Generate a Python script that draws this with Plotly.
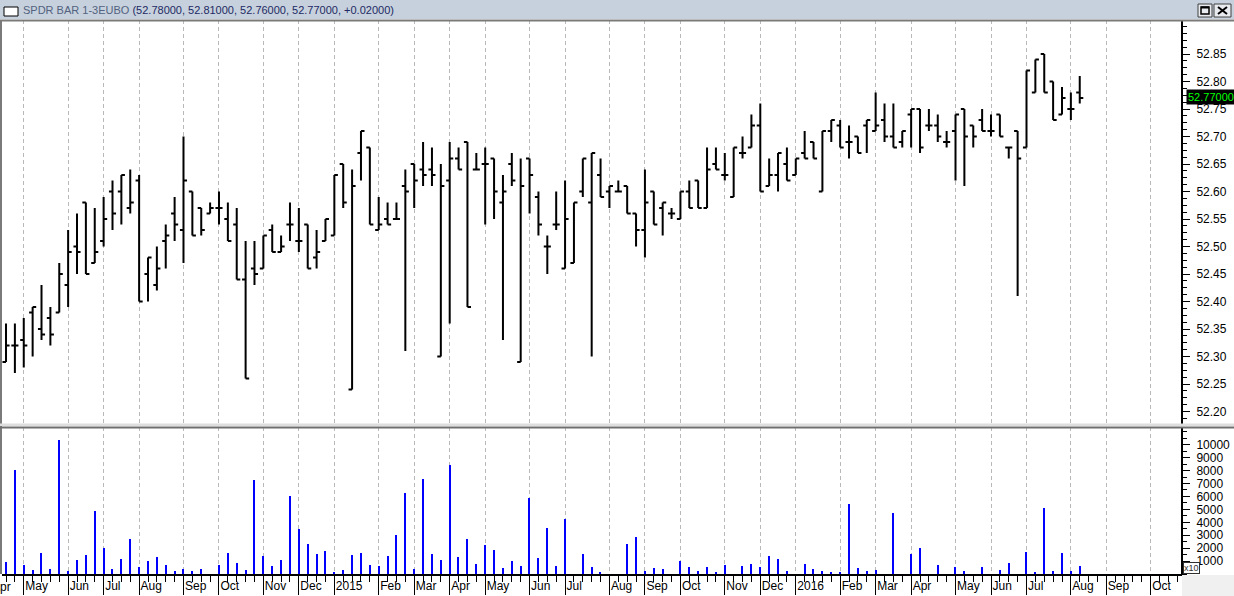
import plotly.graph_objects as go
import pandas as pd

# ---------------- data ----------------
first_week = "2014-04-18"
n_weeks = 122
weeks = pd.date_range(first_week, periods=n_weeks, freq="W-FRI")

opens = [52.29, 52.32, 52.33, 52.38, 52.35, 52.37, 52.38, 52.43, 52.50, 52.58,
         52.47, 52.51, 52.60, 52.60, 52.57, 52.62, 52.45, 52.43, 52.51, 52.56,
         52.53, 52.60, 52.57, 52.56, 52.57, 52.55, 52.54, 52.44, 52.46, 52.46,
         52.53, 52.49, 52.54, 52.51, 52.54, 52.48, 52.51, 52.52, 52.65, 52.24,
         52.67, 52.68, 52.53, 52.55, 52.55, 52.61, 52.65, 52.64, 52.64, 52.30,
         52.62, 52.66, 52.69, 52.64, 52.65, 52.66, 52.58, 52.65, 52.29, 52.66,
         52.59, 52.50, 52.54, 52.46, 52.47, 52.60, 52.58, 52.63, 52.60, 52.60,
         52.61, 52.56, 52.53, 52.60, 52.57, 52.56, 52.55, 52.60, 52.62, 52.57,
         52.65, 52.63, 52.59, 52.67, 52.68, 52.72, 52.61, 52.63, 52.65, 52.63,
         52.67, 52.69, 52.60, 52.71, 52.72, 52.69, 52.70, 52.72, 52.71, 52.73,
         52.70, 52.69, 52.74, 52.75, 52.72, 52.72, 52.69, 52.71, 52.75, 52.72,
         52.73, 52.71, 52.74, 52.68, 52.71, 52.68, 52.78, 52.85, 52.80, 52.74,
         52.75, 52.78]
highs = [52.36, 52.36, 52.37, 52.39, 52.43, 52.39, 52.47, 52.53, 52.56, 52.58,
         52.57, 52.59, 52.62, 52.63, 52.64, 52.63, 52.48, 52.50, 52.54, 52.59,
         52.70, 52.60, 52.57, 52.58, 52.60, 52.58, 52.57, 52.51, 52.51, 52.52,
         52.54, 52.52, 52.58, 52.57, 52.54, 52.53, 52.55, 52.63, 52.65, 52.64,
         52.71, 52.68, 52.59, 52.58, 52.58, 52.64, 52.65, 52.69, 52.68, 52.65,
         52.69, 52.68, 52.69, 52.67, 52.68, 52.66, 52.63, 52.67, 52.66, 52.66,
         52.60, 52.52, 52.60, 52.62, 52.58, 52.66, 52.67, 52.66, 52.61, 52.62,
         52.61, 52.56, 52.64, 52.60, 52.58, 52.57, 52.60, 52.62, 52.62, 52.68,
         52.68, 52.67, 52.68, 52.70, 52.74, 52.76, 52.66, 52.67, 52.68, 52.66,
         52.71, 52.69, 52.71, 52.73, 52.73, 52.72, 52.70, 52.73, 52.78, 52.76,
         52.76, 52.71, 52.75, 52.75, 52.75, 52.74, 52.71, 52.74, 52.75, 52.72,
         52.75, 52.74, 52.74, 52.68, 52.71, 52.82, 52.84, 52.85, 52.80, 52.79,
         52.78, 52.81]
lows = [52.29, 52.27, 52.28, 52.30, 52.33, 52.32, 52.38, 52.39, 52.45, 52.45,
        52.47, 52.50, 52.53, 52.54, 52.56, 52.40, 52.40, 52.42, 52.46, 52.51,
        52.47, 52.52, 52.52, 52.56, 52.54, 52.51, 52.44, 52.26, 52.43, 52.46,
        52.49, 52.49, 52.51, 52.49, 52.46, 52.46, 52.51, 52.52, 52.57, 52.24,
        52.62, 52.54, 52.53, 52.54, 52.55, 52.31, 52.57, 52.61, 52.61, 52.30,
        52.36, 52.64, 52.39, 52.64, 52.54, 52.55, 52.33, 52.61, 52.29, 52.56,
        52.52, 52.45, 52.53, 52.46, 52.47, 52.59, 52.30, 52.59, 52.57, 52.60,
        52.56, 52.50, 52.48, 52.54, 52.52, 52.55, 52.55, 52.57, 52.57, 52.57,
        52.64, 52.62, 52.59, 52.66, 52.68, 52.60, 52.61, 52.60, 52.62, 52.63,
        52.66, 52.66, 52.60, 52.69, 52.68, 52.66, 52.67, 52.67, 52.71, 52.69,
        52.68, 52.68, 52.68, 52.67, 52.71, 52.69, 52.68, 52.62, 52.61, 52.68,
        52.71, 52.70, 52.70, 52.66, 52.41, 52.68, 52.78, 52.78, 52.73, 52.74,
        52.73, 52.76]
closes = [52.32, 52.32, 52.32, 52.39, 52.34, 52.34, 52.45, 52.49, 52.49, 52.45,
          52.49, 52.55, 52.56, 52.63, 52.58, 52.40, 52.48, 52.46, 52.52, 52.54,
          52.62, 52.52, 52.53, 52.57, 52.57, 52.51, 52.44, 52.26, 52.45, 52.52,
          52.49, 52.50, 52.54, 52.51, 52.46, 52.49, 52.55, 52.63, 52.58, 52.61,
          52.71, 52.54, 52.54, 52.54, 52.55, 52.60, 52.62, 52.63, 52.63, 52.61,
          52.66, 52.64, 52.39, 52.64, 52.65, 52.60, 52.60, 52.62, 52.61, 52.63,
          52.54, 52.50, 52.54, 52.55, 52.58, 52.66, 52.67, 52.59, 52.61, 52.60,
          52.56, 52.53, 52.58, 52.54, 52.58, 52.56, 52.60, 52.57, 52.57, 52.64,
          52.64, 52.63, 52.68, 52.67, 52.72, 52.60, 52.63, 52.67, 52.62, 52.66,
          52.66, 52.66, 52.71, 52.73, 52.68, 52.69, 52.67, 52.73, 52.72, 52.70,
          52.68, 52.71, 52.75, 52.68, 52.72, 52.70, 52.69, 52.74, 52.70, 52.70,
          52.71, 52.71, 52.70, 52.68, 52.66, 52.82, 52.84, 52.78, 52.73, 52.77,
          52.75, 52.77]
volumes = [930, 8060, 670, 300, 1620, 360, 10390, 200, 1060, 1440,
           4860, 2010, 360, 1130, 2690, 510, 1000, 1290, 670, 200,
           360, 200, 360, 0, 670, 1620, 820, 300, 7290, 1390,
           590, 1060, 6050, 3460, 2300, 1520, 1780, 150, 280, 1440,
           1600, 670, 620, 1370, 3000, 6250, 360, 7340, 1520, 1060,
           8430, 1290, 2690, 750, 2220, 1830, 430, 980, 590, 5870,
           1210, 3540, 590, 4240, 0, 1520, 510, 120, 0, 0,
           2300, 2840, 200, 430, 360, 0, 1000, 510, 200, 510,
           120, 670, 0, 590, 750, 510, 1370, 1130, 200, 0,
           750, 360, 200, 120, 120, 5400, 430, 200, 280, 0,
           4700, 0, 1550, 1990, 0, 670, 0, 510, 200, 0,
           510, 0, 280, 820, 0, 1680, 120, 5090, 200, 1600,
           200, 590]

month_ticks = ["2014-05-02", "2014-06-06", "2014-07-04", "2014-08-01", "2014-09-05",
               "2014-10-03", "2014-11-07", "2014-12-05", "2015-01-02", "2015-02-06",
               "2015-03-06", "2015-04-03", "2015-05-01", "2015-06-05", "2015-07-03",
               "2015-08-07", "2015-09-04", "2015-10-02", "2015-11-06", "2015-12-04",
               "2016-01-01", "2016-02-05", "2016-03-04", "2016-04-01", "2016-05-06",
               "2016-06-03", "2016-07-01", "2016-08-05", "2016-09-02", "2016-10-07"]
month_labels = ["May", "Jun", "Jul", "Aug", "Sep", "Oct", "Nov", "Dec", "2015", "Feb",
                "Mar", "Apr", "May", "Jun", "Jul", "Aug", "Sep", "Oct", "Nov", "Dec",
                "2016", "Feb", "Mar", "Apr", "May", "Jun", "Jul", "Aug", "Sep", "Oct"]
price_ticks = [52.20, 52.25, 52.30, 52.35, 52.40, 52.45, 52.50, 52.55, 52.60,
               52.65, 52.70, 52.75, 52.80, 52.85]
volume_ticks = [1000, 2000, 3000, 4000, 5000, 6000, 7000, 8000, 9000, 10000]

title_name = "SPDR BAR 1-3EUBO"
title_values = "(52.78000, 52.81000, 52.76000, 52.77000, +0.02000)"
last_price_label = "52.77000"
last_price = 52.77

# ---------------- layout geometry ----------------
W, H = 1234, 596
ML, MR, MT, MB = 2, 53, 20, 22
PW, PH = W - ML - MR, H - MT - MB


def px2x(px):
    return (px - ML) / PW


def py2y(py):
    return (H - MB - py) / PH


x_range = ["2014-04-14 20:00", "2016-10-30 21:00"]
price_dom = [py2y(424), 1.0]
vol_dom = [0.0, py2y(427)]
FONT = "Liberation Sans, Arial, sans-serif"
GRID = "#b9b9b9"

fig = go.Figure()
fig.add_trace(go.Ohlc(
    x=weeks, open=opens, high=highs, low=lows, close=closes,
    xaxis="x", yaxis="y", tickwidth=0.4,
    increasing=dict(line=dict(color="black", width=2)),
    decreasing=dict(line=dict(color="black", width=2)),
    hoverinfo="none", showlegend=False))
fig.add_trace(go.Bar(
    x=weeks, y=volumes, xaxis="x2", yaxis="y2", width=80e6,
    marker=dict(color="#0000ff", line=dict(width=0)),
    hoverinfo="none", showlegend=False))

fig.update_layout(
    width=W, height=H, margin=dict(l=ML, r=MR, t=MT, b=MB, autoexpand=False),
    paper_bgcolor="white", plot_bgcolor="white",
    font=dict(family=FONT, size=12, color="#000000"),
    bargap=0,
    xaxis=dict(domain=[0, 1], anchor="y", range=x_range, type="date", automargin=False,
               tickmode="array", tickvals=month_ticks, showticklabels=False,
               ticks="", showgrid=True, gridcolor=GRID, griddash="4px,3px",
               gridwidth=1, zeroline=False, showline=False,
               rangeslider=dict(visible=False)),
    yaxis=dict(domain=price_dom, anchor="x", side="right", automargin=False,
               range=[52.1775, 52.9118], tickmode="array", tickvals=price_ticks,
               ticktext=[f"{v:.2f}" for v in price_ticks],
               ticks="outside", ticklen=7, tickwidth=1, tickcolor="black",
               ticklabelstandoff=4,
               showline=True, linecolor="black", linewidth=2,
               showgrid=False, zeroline=False,
               minor=dict(tick0=52.2, dtick=0.0125, ticks="outside", ticklen=4,
                          tickcolor="black", tickwidth=1, showgrid=False),
               tickfont=dict(family=FONT, size=12, color="#000000")),
    xaxis2=dict(domain=[0, 1], anchor="y2", range=x_range, type="date", automargin=False,
                tickmode="array", tickvals=month_ticks, ticktext=month_labels,
                ticks="outside", ticklen=19, tickwidth=1, tickcolor="black",
                ticklabelposition="outside right", ticklabelstandoff=0,
                showgrid=True, gridcolor=GRID, griddash="4px,3px", gridwidth=1,
                zeroline=False, showline=True, linecolor="black", linewidth=2,
                minor=dict(tick0=first_week, dtick=7 * 86400000, ticks="outside",
                           ticklen=6, tickcolor="black", tickwidth=1, showgrid=False),
                tickfont=dict(family=FONT, size=12, color="#000000")),
    yaxis2=dict(domain=vol_dom, anchor="x2", side="right", range=[0, 11373],
                automargin=False,
                tickmode="array", tickvals=volume_ticks,
                ticktext=[str(v) for v in volume_ticks],
                ticks="outside", ticklen=7, tickwidth=1, tickcolor="black",
                ticklabelstandoff=4,
                showline=True, linecolor="black", linewidth=2,
                showgrid=False, zeroline=False,
                minor=dict(tick0=0, dtick=500, ticks="outside", ticklen=4,
                           tickcolor="black", tickwidth=1, showgrid=False),
                tickfont=dict(family=FONT, size=12, color="#000000")),
)

shapes = []
# title bar
shapes.append(dict(type="rect", xref="paper", yref="paper", x0=px2x(0), x1=px2x(W),
                   y0=py2y(19), y1=py2y(0), fillcolor="#c7d1dd", line=dict(width=0),
                   layer="above"))
# title icon
shapes.append(dict(type="rect", xref="paper", yref="paper", x0=px2x(4), x1=px2x(18),
                   y0=py2y(16), y1=py2y(7), fillcolor="white",
                   line=dict(color="black", width=1), layer="above"))
# window buttons
for bx0, bx1 in [(1198, 1212), (1214, 1231)]:
    shapes.append(dict(type="rect", xref="paper", yref="paper", x0=px2x(bx0), x1=px2x(bx1),
                       y0=py2y(17), y1=py2y(4), fillcolor="#e8ebef",
                       line=dict(color="#404040", width=1), layer="above"))
shapes.append(dict(type="rect", xref="paper", yref="paper", x0=px2x(1201), x1=px2x(1209),
                   y0=py2y(14), y1=py2y(7), fillcolor="rgba(0,0,0,0)",
                   line=dict(color="black", width=1.5), layer="above"))
shapes.append(dict(type="line", xref="paper", yref="paper", x0=px2x(1201), x1=px2x(1209),
                   y0=py2y(7.5), y1=py2y(7.5), line=dict(color="black", width=2), layer="above"))
shapes.append(dict(type="line", xref="paper", yref="paper", x0=px2x(1218), x1=px2x(1227),
                   y0=py2y(7), y1=py2y(14), line=dict(color="black", width=2), layer="above"))
shapes.append(dict(type="line", xref="paper", yref="paper", x0=px2x(1218), x1=px2x(1227),
                   y0=py2y(14), y1=py2y(7), line=dict(color="black", width=2), layer="above"))
# frame lines
shapes.append(dict(type="line", xref="paper", yref="paper", x0=px2x(0), x1=px2x(W),
                   y0=py2y(20.5), y1=py2y(20.5), line=dict(color="#7a7a7a", width=2), layer="above"))
shapes.append(dict(type="line", xref="paper", yref="paper", x0=px2x(1), x1=px2x(1),
                   y0=py2y(20), y1=py2y(574), line=dict(color="#7a7a7a", width=2), layer="above"))
shapes.append(dict(type="rect", xref="paper", yref="paper", x0=px2x(0), x1=px2x(W),
                   y0=py2y(426), y1=py2y(423.5), fillcolor="#dedede", line=dict(width=0),
                   layer="above"))
shapes.append(dict(type="line", xref="paper", yref="paper", x0=px2x(0), x1=px2x(W),
                   y0=py2y(427.5), y1=py2y(427.5), line=dict(color="#6e6e6e", width=2), layer="above"))
# bottom-right grey corner
shapes.append(dict(type="rect", xref="paper", yref="paper", x0=px2x(1182), x1=px2x(W),
                   y0=py2y(H), y1=py2y(575), fillcolor="#f0f0f0", line=dict(width=0),
                   layer="above"))
fig.update_layout(shapes=shapes)

annotations = [
    dict(xref="paper", yref="paper", x=px2x(21), y=py2y(10), xanchor="left", yanchor="middle",
         showarrow=False, align="left",
         text=f"<span style='color:#52627f'>{title_name}</span> "
              f"<span style='color:#1d2a64'>{title_values}</span>",
         font=dict(family=FONT, size=11)),
    dict(xref="paper", yref="y", x=px2x(1186), y=last_price, xanchor="left", yanchor="middle",
         yshift=1, showarrow=False, text=last_price_label, bgcolor="black", borderpad=1,
         font=dict(family=FONT, size=11, color="#00ff00")),
    dict(xref="paper", yref="paper", x=px2x(1183), y=py2y(573.5), xanchor="left",
         yanchor="bottom", showarrow=False, text="x10", bgcolor="white",
         bordercolor="#303030", borderwidth=1, borderpad=0,
         font=dict(family=FONT, size=9, color="#303030")),
    dict(xref="paper", yref="paper", x=px2x(-10), y=py2y(587), xanchor="left",
         yanchor="middle", showarrow=False, text="Apr",
         font=dict(family=FONT, size=12, color="#000000")),
]
fig.update_layout(annotations=annotations)

fig.write_html("out.html",
               config={"displayModeBar": False},
               post_script="document.body.style.margin='0';"
                           "document.body.style.overflow='hidden';")
